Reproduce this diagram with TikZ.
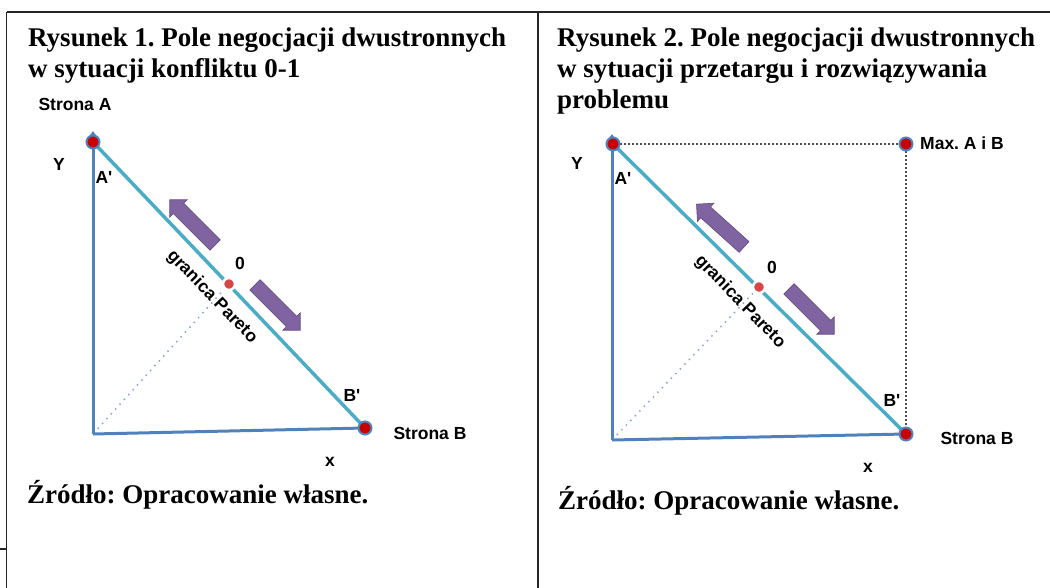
\documentclass[tikz,border=0pt]{standalone}
\usepackage{fontspec}
\setmainfont{Liberation Serif}
\setsansfont{Liberation Sans}
\usetikzlibrary{shapes.arrows, arrows.meta}
\frenchspacing

\definecolor{axisblue}{RGB}{79,129,189}
\definecolor{paretocyan}{RGB}{75,172,198}
\definecolor{dotred}{RGB}{200,0,0}
\definecolor{zerored}{RGB}{215,70,70}
\definecolor{arrowpurple}{RGB}{128,100,162}
\definecolor{arrowedge}{RGB}{96,74,123}

\begin{document}
\begin{tikzpicture}[x=1pt,y=-1pt,
 frame/.style={line width=1.5pt, black!85},
 title/.style={font=\fontsize{27}{31}\selectfont\bfseries, anchor=base west, inner sep=0},
 lbl/.style={font=\sffamily\bfseries\fontsize{17.5}{20}\selectfont, inner sep=0},
 axisline/.style={draw=axisblue, line width=3pt},
 pareto/.style={draw=paretocyan, line width=3.5pt},
 enddot/.style={circle, fill=dotred, draw=axisblue, line width=2pt, minimum size=13pt, inner sep=0},
 zerodot/.style={circle, fill=zerored, draw=white, line width=2.5pt, minimum size=12pt, inner sep=0},
 bigarrow/.style={single arrow, fill=arrowpurple, draw=arrowedge, line width=0.6pt, minimum height=64pt, inner xsep=0pt, inner ysep=7pt, single arrow head extend=5pt, single arrow tip angle=90},
 bluedots/.style={draw=axisblue!70, line width=1.5pt, dash pattern=on 1.5pt off 5pt, shorten <=7pt, shorten >=9pt},
 blackdots/.style={draw=black!70, line width=1.5pt, dash pattern=on 2pt off 2pt, shorten <=7pt, shorten >=7pt},
]
\useasboundingbox (0,0) rectangle (1050,588);

% frame
\draw[frame] (6.5,12) -- (1050,12);
\draw[frame] (6.5,12) -- (6.5,588);
\draw[frame] (538,12) -- (538,588);
\draw[frame] (0,549) -- (6.5,549);

% ---------- left panel ----------
\node[title] (t1a) at (28,47) {Rysunek 1. Pole negocjacji dwustronnych};
\node[title] (t1b) at (28,78) {w sytuacji konfliktu 0-1};

\coordinate (O1) at (93,434);
\coordinate (pA1) at (93,142);
\coordinate (tA1) at (93,131);
\coordinate (pB1) at (365,428);
\coordinate (pZ1) at (229,284);

\draw[axisline, -{Triangle[width=8pt,length=6pt]}] (O1) -- (tA1);
\draw[axisline] (O1) -- (pB1);
\draw[bluedots] (O1) -- (pZ1);
\draw[pareto] (pA1) -- (pB1);
\node[enddot] (A1) at (pA1) {};
\node[enddot] (B1) at (pB1) {};
\node[zerodot] (Z1) at (pZ1) {};

\node[bigarrow, rotate=135] (ar1) at (195,225) {};
\node[bigarrow, rotate=-45] (ar2) at (275,305) {};

\node[lbl] (sA1) at (75,104) {Strona A};
\node[lbl] (y1) at (59,164) {Y};
\node[lbl] (a1) at (104,177) {A\textquotesingle};
\node[lbl] (z1) at (240,263) {0};
\node[lbl, rotate=-46] (gp1) at (212,297) {granica Pareto};
\node[lbl] (b1) at (352,395) {B\textquotesingle};
\node[lbl] (sB1) at (430,433) {Strona B};
\node[lbl] (x1) at (330,462) {x};

\node[title] (src1) at (27,503) {Źródło: Opracowanie własne.};

% ---------- right panel ----------
\node[title] (t2a) at (557,47) {Rysunek 2. Pole negocjacji dwustronnych};
\node[title] (t2b) at (557,78) {w sytuacji przetargu i rozwiązywania};
\node[title] (t2c) at (557,109) {problemu};

\coordinate (O2) at (612,440);
\coordinate (pA2) at (613,144);
\coordinate (tA2) at (612,134);
\coordinate (pB2) at (906,434);
\coordinate (pM2) at (906,144);
\coordinate (pZ2) at (759,287);

\draw[axisline, -{Triangle[width=8pt,length=6pt]}] (O2) -- (tA2);
\draw[axisline] (O2) -- (pB2);
\draw[bluedots] (O2) -- (pZ2);
\draw[blackdots] (pA2) -- (pM2);
\draw[blackdots] (pM2) -- (pB2);
\draw[pareto] (pA2) -- (pB2);
\node[enddot] (A2) at (pA2) {};
\node[enddot] (B2) at (pB2) {};
\node[enddot] (M2) at (pM2) {};
\node[zerodot] (Z2) at (pZ2) {};

\node[bigarrow, rotate=138] (ar3) at (723,228) {};
\node[bigarrow, rotate=-45] (ar4) at (809,309) {};

\node[lbl] (y2) at (577,163) {Y};
\node[lbl] (a2) at (623,178) {A\textquotesingle};
\node[lbl] (z2) at (772,267) {0};
\node[lbl, rotate=-46] (gp2) at (740,302) {granica Pareto};
\node[lbl] (b2) at (892,400) {B\textquotesingle};
\node[lbl] (mx2) at (962,143) {Max. A i B};
\node[lbl] (sB2) at (977,438) {Strona B};
\node[lbl] (x2) at (868,468) {x};

\node[title] (src2) at (558,509) {Źródło: Opracowanie własne.};
\end{tikzpicture}
\end{document}
